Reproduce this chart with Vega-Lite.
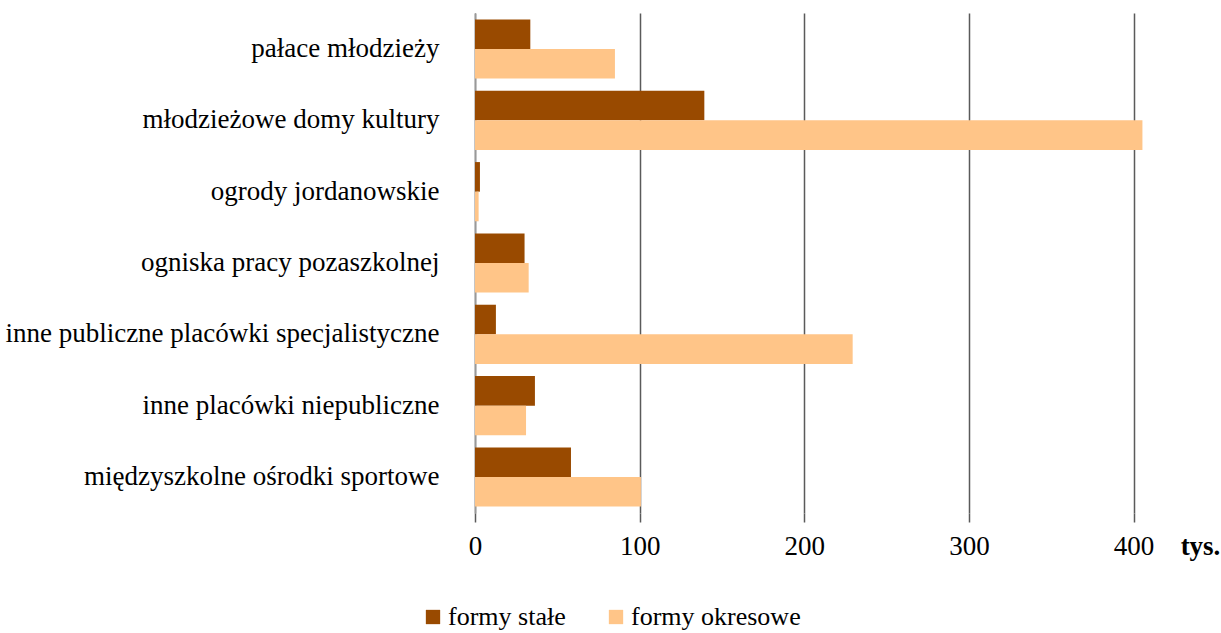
{
  "$schema": "https://vega.github.io/schema/vega-lite/v6.json",
  "width": 675,
  "height": 500,
  "autosize": "none",
  "padding": {"left": 475, "top": 13, "right": 71, "bottom": 120},
  "background": "white",
  "data": {
    "values": [
      {"kategoria": "pałace młodzieży", "forma": "formy stałe", "wartosc": 33.6},
      {"kategoria": "pałace młodzieży", "forma": "formy okresowe", "wartosc": 85},
      {"kategoria": "młodzieżowe domy kultury", "forma": "formy stałe", "wartosc": 139.3},
      {"kategoria": "młodzieżowe domy kultury", "forma": "formy okresowe", "wartosc": 405.4},
      {"kategoria": "ogrody jordanowskie", "forma": "formy stałe", "wartosc": 3.0},
      {"kategoria": "ogrody jordanowskie", "forma": "formy okresowe", "wartosc": 2.2},
      {"kategoria": "ogniska pracy pozaszkolnej", "forma": "formy stałe", "wartosc": 30.1},
      {"kategoria": "ogniska pracy pozaszkolnej", "forma": "formy okresowe", "wartosc": 32.6},
      {"kategoria": "inne publiczne placówki specjalistyczne", "forma": "formy stałe", "wartosc": 12.7},
      {"kategoria": "inne publiczne placówki specjalistyczne", "forma": "formy okresowe", "wartosc": 229.4},
      {"kategoria": "inne placówki niepubliczne", "forma": "formy stałe", "wartosc": 36.4},
      {"kategoria": "inne placówki niepubliczne", "forma": "formy okresowe", "wartosc": 31},
      {"kategoria": "międzyszkolne ośrodki sportowe", "forma": "formy stałe", "wartosc": 58.3},
      {"kategoria": "międzyszkolne ośrodki sportowe", "forma": "formy okresowe", "wartosc": 100.8}
    ]
  },
  "config": {
    "font": "Liberation Serif",
    "view": {"stroke": null}
  },
  "mark": {"type": "bar"},
  "encoding": {
    "y": {
      "field": "kategoria",
      "type": "nominal",
      "sort": null,
      "scale": {"paddingInner": 0.17, "paddingOuter": 0.09},
      "axis": {
        "title": null,
        "ticks": false,
        "domain": true,
        "domainColor": "#999999",
        "domainWidth": 1.5,
        "labelFont": "Liberation Serif",
        "labelFontSize": 27,
        "labelColor": "#000000",
        "labelPadding": 36,
        "labelLimit": 600
      }
    },
    "yOffset": {
      "field": "forma",
      "type": "nominal",
      "sort": ["formy stałe", "formy okresowe"]
    },
    "x": {
      "field": "wartosc",
      "type": "quantitative",
      "scale": {"domain": [0, 410], "nice": false},
      "axis": {
        "values": [0, 100, 200, 300, 400],
        "grid": true,
        "gridColor": "#5a5a5a",
        "gridWidth": 1.5,
        "domain": false,
        "ticks": true,
        "tickSize": 9,
        "tickColor": "#5a5a5a",
        "tickWidth": 1.5,
        "labelFlush": false,
        "labelFont": "Liberation Serif",
        "labelFontSize": 27,
        "labelColor": "#000000",
        "labelPadding": 11,
        "title": "tys.",
        "titleFont": "Liberation Serif",
        "titleFontSize": 27,
        "titleFontWeight": "bold",
        "titleColor": "#000000",
        "titleX": 725,
        "titleY": 33,
        "titleAlign": "center",
        "titleBaseline": "middle"
      }
    },
    "color": {
      "field": "forma",
      "type": "nominal",
      "sort": ["formy stałe", "formy okresowe"],
      "scale": {"domain": ["formy stałe", "formy okresowe"], "range": ["#994A00", "#FFC588"]},
      "legend": {
        "title": null,
        "orient": "none",
        "direction": "horizontal",
        "legendX": -55,
        "legendY": 591,
        "symbolType": "square",
        "symbolSize": 205,
        "symbolStrokeWidth": 0,
        "labelFont": "Liberation Serif",
        "labelFontSize": 26,
        "labelColor": "#000000",
        "labelOffset": 2,
        "labelLimit": 400,
        "columnPadding": 37
      }
    }
  }
}
